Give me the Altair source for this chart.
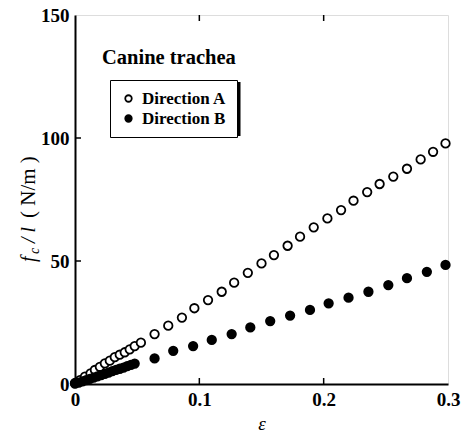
import altair as alt
import pandas as pd

# ---- data ----
a_strain = [0.0, 0.004, 0.008, 0.0125, 0.016, 0.020, 0.024, 0.028, 0.032, 0.036, 0.040, 0.044, 0.048,
            0.053, 0.064, 0.075, 0.086, 0.096, 0.107, 0.118, 0.128, 0.139, 0.150, 0.160, 0.171,
            0.181, 0.192, 0.203, 0.214, 0.224, 0.235, 0.245, 0.256, 0.267, 0.278, 0.288, 0.298]
a_force = [0.4, 1.6, 3.0, 4.3, 5.7, 7.0, 8.4, 9.5, 10.9, 11.9, 12.9, 14.1, 15.4,
           16.8, 20.3, 23.7, 27.0, 30.8, 34.1, 37.5, 41.2, 45.2, 49.0, 52.4, 56.2,
           59.9, 63.7, 67.3, 70.7, 74.5, 78.0, 81.3, 84.3, 87.5, 91.3, 94.4, 97.8]
b_strain = [0.0, 0.003, 0.006, 0.009, 0.012, 0.015, 0.018, 0.021, 0.024, 0.027, 0.030, 0.033,
            0.036, 0.039, 0.042, 0.045, 0.048,
            0.064, 0.079, 0.095, 0.110, 0.126, 0.141, 0.157, 0.173, 0.189, 0.204, 0.220,
            0.236, 0.252, 0.267, 0.283, 0.298]
b_force = [0.2, 0.6, 1.1, 1.6, 2.1, 2.6, 3.1, 3.6, 4.1, 4.6, 5.2, 5.7,
           6.2, 6.7, 7.3, 7.8, 8.3,
           10.4, 13.5, 15.4, 17.9, 20.3, 23.0, 25.6, 27.8, 30.1, 32.8, 35.1,
           37.5, 40.2, 43.0, 45.6, 48.4]
series_names = ["Direction A", "Direction B"]
x_tick_labels = [0, 0.1, 0.2, 0.3]
y_tick_labels = [0, 50, 100, 150]
x_inner_ticks = [0.1, 0.2]
y_inner_ticks = [50, 100]

df = pd.DataFrame({
    "strain": a_strain + b_strain,
    "force": a_force + b_force,
    "series": [series_names[0]] * len(a_strain) + [series_names[1]] * len(b_strain),
})

W, H = 373, 369
SERIF = "Liberation Serif"

xs = alt.Scale(domain=[0, 0.3], nice=False, zero=False)
ys = alt.Scale(domain=[0, 150], nice=False)

points = alt.Chart(df).mark_point(
    filled=True, size=72, strokeWidth=1.8, stroke="black", opacity=1, clip=False
).encode(
    x=alt.X("strain:Q", scale=xs,
            axis=alt.Axis(values=x_tick_labels, format="~g", title="ε",
                          titleFont=SERIF, titleFontStyle="italic", titleFontWeight="normal",
                          titleFontSize=19, titlePadding=5, grid=False, ticks=False,
                          labelFont=SERIF, labelFontWeight="bold", labelFontSize=19,
                          labelPadding=6, labelColor="black", domainColor="black",
                          domainWidth=2, labelFlush=False)),
    y=alt.Y("force:Q", scale=ys,
            axis=alt.Axis(values=y_tick_labels, title=None, grid=False, ticks=False,
                          labelFont=SERIF, labelFontWeight="bold", labelFontSize=19,
                          labelPadding=6, labelColor="black", domainColor="black",
                          domainWidth=2)),
    fill=alt.Fill("series:N", scale=alt.Scale(domain=series_names, range=["white", "black"]),
                  legend=alt.Legend(title=None, orient="none", legendX=35, legendY=65,
                                    strokeColor="black", fillColor="white", padding=10,
                                    labelFont=SERIF, labelFontWeight="bold", labelFontSize=17,
                                    labelColor="black", symbolSize=42, symbolStrokeWidth=1.8,
                                    symbolStrokeColor="black", rowPadding=2, labelOffset=5)),
    order=alt.Order("series:N"),
)

xt = pd.DataFrame({"v": x_inner_ticks})
yt = pd.DataFrame({"v": y_inner_ticks})
xticks_bottom = alt.Chart(xt).mark_rule(color="black", strokeWidth=1.5).encode(
    x=alt.X("v:Q", scale=xs), y=alt.value(H), y2=alt.value(H - 6))
xticks_top = alt.Chart(xt).mark_rule(color="black", strokeWidth=1.5).encode(
    x=alt.X("v:Q", scale=xs), y=alt.value(0), y2=alt.value(6))
yticks_left = alt.Chart(yt).mark_rule(color="black", strokeWidth=1.5).encode(
    y=alt.Y("v:Q", scale=ys), x=alt.value(0), x2=alt.value(6))

# drop shadow behind the legend box
shadow = alt.Chart(pd.DataFrame({"s": [1]})).mark_rect(color="black").encode(
    x=alt.value(37), x2=alt.value(165.5), y=alt.value(67), y2=alt.value(121))


def label(text, x, y, size=17, style="normal", weight="normal", angle=0):
    d = pd.DataFrame({"t": [text]})
    kw = dict(font=SERIF, fontSize=size, fontStyle=style, fontWeight=weight,
              align="left", baseline="alphabetic", color="black")
    if angle:
        kw["angle"] = angle
    return alt.Chart(d).mark_text(**kw).encode(
        text="t:N", x=alt.value(x), y=alt.value(y))


title_txt = label("Canine trachea", 27, 49, size=20.5, weight="bold")
yt1 = label("f", -40, 247, size=20, style="italic", angle=270)
yt2 = label("c", -36, 239, size=14, style="italic", angle=270)
yt3 = label("/ l", -40, 228, size=20, style="italic", angle=270)
yt4 = label("( N/m )", -40, 203, size=21, angle=270)

chart = alt.layer(
    xticks_bottom, xticks_top, yticks_left, shadow, points, title_txt, yt1, yt2, yt3, yt4
).properties(
    width=W, height=H,
    autosize=alt.AutoSizeParams(type="none"),
    padding={"left": 67, "top": 7, "right": 17, "bottom": 52},
).configure_view(stroke="black", strokeWidth=2).configure(background="white")

chart.save("out.html", embed_options={"renderer": "svg", "actions": False})
